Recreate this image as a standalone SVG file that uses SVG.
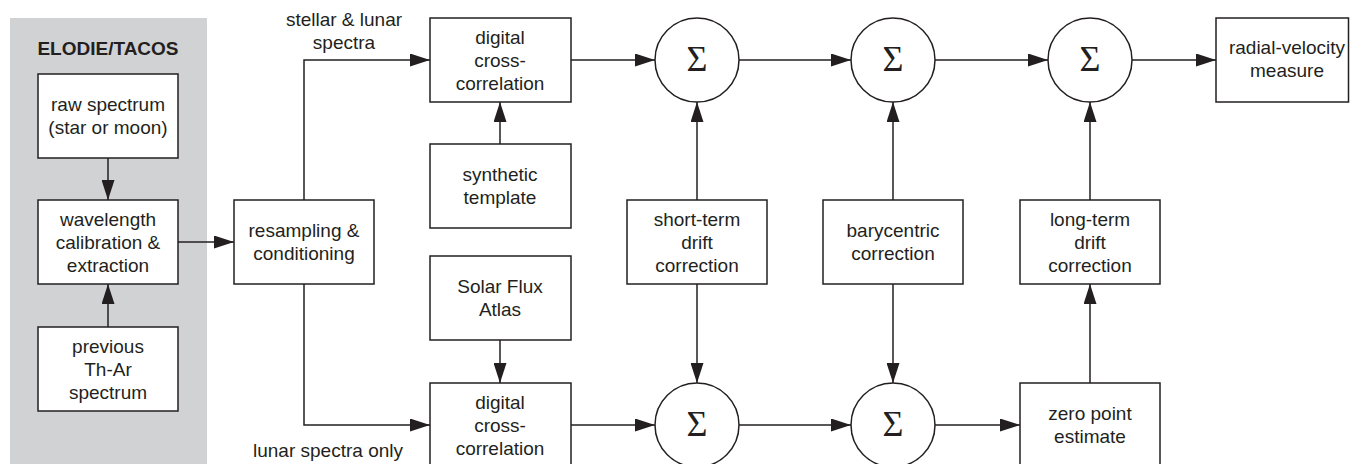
<svg xmlns="http://www.w3.org/2000/svg" width="1350" height="464" viewBox="0 0 1350 464">
<defs>
<marker id="ah" markerUnits="userSpaceOnUse" markerWidth="20" markerHeight="13" refX="20" refY="6.5" orient="auto"><path d="M0,0 L20,6.5 L0,13 z" fill="#231f20"/></marker>
<style>
.b{fill:#fff;stroke:#231f20;stroke-width:1.5}
.t{font-family:"Liberation Sans",Arial,sans-serif;font-size:19px;fill:#231f20;text-anchor:middle}
.s{font-family:"Liberation Serif","Times New Roman",serif;font-size:36px;fill:#231f20;text-anchor:middle}
.c{fill:none;stroke:#231f20;stroke-width:1.5;marker-end:url(#ah)}
</style>
</defs>
<rect width="1350" height="464" fill="#fff"/>
<g id="panel">
<rect x="10" y="18" width="197" height="446" fill="#d1d2d4"/>
<text class="t" x="108" y="55" style="font-weight:bold">ELODIE/TACOS</text>
</g>
<g id="raw"><rect class="b" x="38" y="74" width="140" height="84"/><text class="t" x="108" y="111">raw spectrum</text><text class="t" x="108" y="134">(star or moon)</text></g>
<g id="wave"><rect class="b" x="38" y="200" width="140" height="84"/><text class="t" x="108" y="226">wavelength</text><text class="t" x="108" y="249">calibration &amp;</text><text class="t" x="108" y="272">extraction</text></g>
<g id="thar"><rect class="b" x="38" y="327" width="140" height="84"/><text class="t" x="108" y="353">previous</text><text class="t" x="108" y="376">Th-Ar</text><text class="t" x="108" y="399">spectrum</text></g>
<g id="resamp"><rect class="b" x="234" y="200" width="140" height="84"/><text class="t" x="304" y="237">resampling &amp;</text><text class="t" x="304" y="260">conditioning</text></g>
<g id="dcc1"><rect class="b" x="430" y="18" width="141" height="84"/><text class="t" x="500" y="44">digital</text><text class="t" x="500" y="67">cross-</text><text class="t" x="500" y="90">correlation</text></g>
<g id="synth"><rect class="b" x="430" y="144" width="141" height="84"/><text class="t" x="500" y="181">synthetic</text><text class="t" x="500" y="204">template</text></g>
<g id="solar"><rect class="b" x="430" y="256" width="141" height="84"/><text class="t" x="500" y="293">Solar Flux</text><text class="t" x="500" y="316">Atlas</text></g>
<g id="dcc2"><rect class="b" x="430" y="383" width="141" height="86"/><text class="t" x="500" y="409">digital</text><text class="t" x="500" y="432">cross-</text><text class="t" x="500" y="455">correlation</text></g>
<g id="sum1"><circle class="b" cx="697" cy="60" r="42"/><text class="s" x="697" y="71">Σ</text></g>
<g id="sum2"><circle class="b" cx="893" cy="60" r="42"/><text class="s" x="893" y="71">Σ</text></g>
<g id="sum3"><circle class="b" cx="1090" cy="60" r="42"/><text class="s" x="1090" y="71">Σ</text></g>
<g id="sum4"><circle class="b" cx="697" cy="425" r="42"/><text class="s" x="697" y="436">Σ</text></g>
<g id="sum5"><circle class="b" cx="893" cy="425" r="42"/><text class="s" x="893" y="436">Σ</text></g>
<g id="short"><rect class="b" x="627" y="200" width="140" height="84"/><text class="t" x="697" y="226">short-term</text><text class="t" x="697" y="249">drift</text><text class="t" x="697" y="272">correction</text></g>
<g id="bary"><rect class="b" x="823" y="200" width="140" height="84"/><text class="t" x="893" y="237">barycentric</text><text class="t" x="893" y="260">correction</text></g>
<g id="long"><rect class="b" x="1020" y="200" width="140" height="84"/><text class="t" x="1090" y="226">long-term</text><text class="t" x="1090" y="249">drift</text><text class="t" x="1090" y="272">correction</text></g>
<g id="zero"><rect class="b" x="1020" y="383" width="140" height="86"/><text class="t" x="1090" y="420">zero point</text><text class="t" x="1090" y="443">estimate</text></g>
<g id="rv"><rect class="b" x="1216" y="18" width="132.5" height="84"/><text class="t" x="1287" y="54">radial-velocity</text><text class="t" x="1287" y="77">measure</text></g>
<g id="labels">
<text class="t" x="344" y="26">stellar &amp; lunar</text>
<text class="t" x="344" y="49">spectra</text>
<text class="t" x="328" y="457">lunar spectra only</text>
</g>
<g id="connectors">
<path class="c" d="M108,158 V200"/>
<path class="c" d="M108,327 V284"/>
<path class="c" d="M178,242 H234"/>
<path class="c" d="M304,200 V60 H430"/>
<path class="c" d="M304,284 V425 H430"/>
<path class="c" d="M500,144 V102"/>
<path class="c" d="M500,340 V383"/>
<path class="c" d="M571,60 H655"/>
<path class="c" d="M739,60 H851"/>
<path class="c" d="M935,60 H1048"/>
<path class="c" d="M1132,60 H1216"/>
<path class="c" d="M697,200 V102"/>
<path class="c" d="M697,284 V383"/>
<path class="c" d="M893,200 V102"/>
<path class="c" d="M893,284 V383"/>
<path class="c" d="M1090,200 V102"/>
<path class="c" d="M1090,383 V284"/>
<path class="c" d="M571,425 H655"/>
<path class="c" d="M739,425 H851"/>
<path class="c" d="M935,425 H1020"/>
</g>
</svg>
